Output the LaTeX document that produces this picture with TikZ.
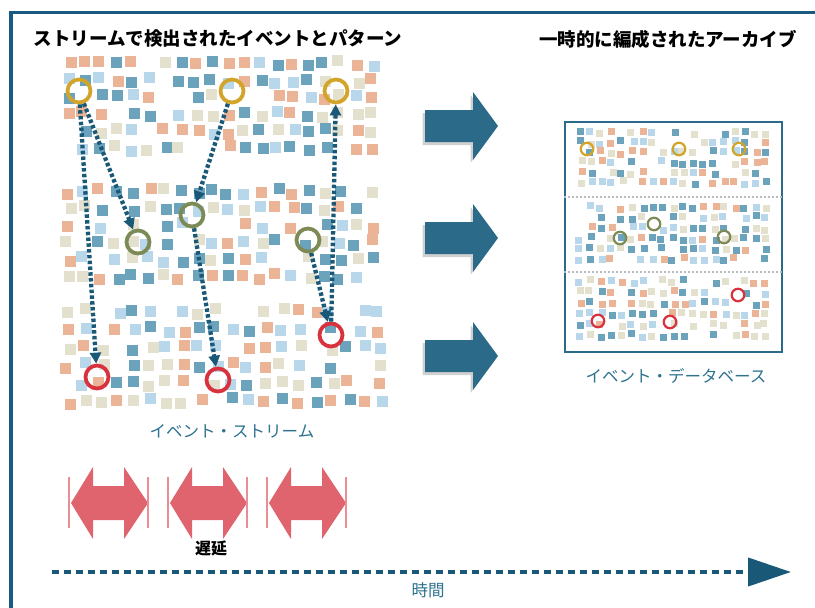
\documentclass[tikz,border=0pt]{standalone}
\usepackage{fontspec}
\setmainfont{Noto Sans CJK JP}
\usetikzlibrary{arrows.meta,shadows}
\definecolor{frameblue}{HTML}{1B5A80}
\definecolor{bigteal}{HTML}{2B6A88}
\definecolor{dotblue}{HTML}{1A5878}
\definecolor{labteal}{HTML}{2E7290}
\definecolor{sq0}{HTML}{6BA3BD}
\definecolor{sq1}{HTML}{B8D7EB}
\definecolor{sq2}{HTML}{EBB496}
\definecolor{sq3}{HTML}{E4E0CE}
\definecolor{ringy}{HTML}{D2A52A}
\definecolor{ringg}{HTML}{7D8A55}
\definecolor{ringr}{HTML}{D9323F}
\definecolor{redarr}{HTML}{E0646E}
\definecolor{redbar}{HTML}{EC8C94}
\definecolor{sepgray}{HTML}{B8BCC0}
% #1 x0, #2 y0, #3 cols, #4 rows, #5 step x, #6 step y, #7 size, #8 seed
\newcommand\sqband[8]{%
  \pgfmathsetseed{#8}%
  \foreach \gx in {1,...,#3}{%
    \foreach \gy in {1,...,#4}{%
      \pgfmathtruncatemacro\keep{rnd<0.82 ? 1 : 0}%
      \ifnum\keep=1
        \pgfmathsetmacro\px{#1+(\gx-1)*#5+(rnd-0.5)*#5*0.4}%
        \pgfmathsetmacro\py{#2+(\gy-1)*#6+(rnd-0.5)*#6*0.4}%
        \pgfmathtruncatemacro\cc{int(rnd*4)}%
        \fill[fill=sq\cc] (\px,\py) rectangle ++(#7,#7);%
      \fi
    }%
  }%
}
\begin{document}
\begin{tikzpicture}[x=1pt,y=-1pt,
  bigring/.style={circle,draw,line width=3.8pt,minimum size=23pt,inner sep=0pt},
  smallring/.style={circle,draw,line width=2.2pt,minimum size=12.5pt,inner sep=0pt},
  dotarrow/.style={draw=dotblue,line width=4.3pt,dash pattern=on 3.5pt off 2.3pt,
    -{Triangle[length=11pt,width=11pt,fill=dotblue]}},
  bigarrow/.style={fill=bigteal,drop shadow={shadow xshift=-2.5pt,shadow yshift=-3pt,opacity=0.3,fill=black!60}},
  redarrow/.style={fill=redarr},
  redbarline/.style={draw=redbar,line width=1.4pt},
  title/.style={font=\bfseries\fontsize{18.5}{20}\selectfont,text=black,inner sep=0pt},
  lab/.style={font=\fontsize{16.5}{18}\selectfont,text=labteal,inner sep=0pt}]
\useasboundingbox (0,0) rectangle (815,608);
\fill[white] (0,0) rectangle (815,608);

% frame
\draw[frameblue,line width=3.3pt] (11,608) -- (11,12.5) -- (815,12.5);

% titles
\node[title] (t1) at (218,39) {ストリームで検出されたイベントとパターン};
\node[title] (t2) at (668,39) {一時的に編成されたアーカイブ};

% left squares
\sqband{63}{58}{20}{6}{16}{17}{11}{11}
\sqband{63}{186}{20}{6}{16}{17}{11}{23}
\sqband{63}{306}{20}{6}{16.4}{18}{11}{37}

% left rings
\node[bigring,draw=ringy] (y1) at (79,91) {};
\node[bigring,draw=ringy] (y2) at (232,91) {};
\node[bigring,draw=ringy] (y3) at (336,91) {};
\node[bigring,draw=ringg] (g1) at (138,242) {};
\node[bigring,draw=ringg] (g2) at (192,215) {};
\node[bigring,draw=ringg] (g3) at (308,240) {};
\node[bigring,draw=ringr] (r1) at (97,377) {};
\node[bigring,draw=ringr] (r2) at (218,380) {};
\node[bigring,draw=ringr] (r3) at (331,335) {};

% dotted arrows
\draw[dotarrow] (y1) -- (r1);
\draw[dotarrow] (y1) -- (g1);
\draw[dotarrow] (y2) -- (g2);
\draw[dotarrow] (g2) -- (r2);
\draw[dotarrow] (g3) -- (r3);
\draw[dotarrow] (r3) -- (y3);

\node[lab] (ls) at (232,431) {イベント・ストリーム};

% big arrows
\foreach \c in {126,238,356}{
  \fill[bigarrow] (425,\c-16) -- (473,\c-16) -- (473,\c-34) -- (498,\c) -- (473,\c+34) -- (473,\c+16) -- (425,\c+16) -- cycle;
}

% archive box
\node[draw=bigteal,line width=2.5pt,fill=white,minimum width=217pt,minimum height=230pt,inner sep=0pt] (box) at (673.5,237) {};
\sqband{577}{129}{19}{6}{10.3}{10}{7}{51}
\sqband{577}{204}{19}{6}{10.3}{10.4}{7}{63}
\sqband{577}{278}{19}{6}{10.3}{10.8}{7}{79}
\draw[sepgray,line width=1.2pt,dash pattern=on 2pt off 2pt] (box.west |- 0,197) -- (box.east |- 0,197);
\draw[sepgray,line width=1.2pt,dash pattern=on 2pt off 2pt] (box.west |- 0,272) -- (box.east |- 0,272);
\node[smallring,draw=ringy] (sy1) at (587,149) {};
\node[smallring,draw=ringy] (sy2) at (679,149) {};
\node[smallring,draw=ringy] (sy3) at (739,149) {};
\node[smallring,draw=ringg] (sg1) at (620,238) {};
\node[smallring,draw=ringg] (sg2) at (654,224) {};
\node[smallring,draw=ringg] (sg3) at (724,237) {};
\node[smallring,draw=ringr] (sr1) at (598,321) {};
\node[smallring,draw=ringr] (sr2) at (670,322) {};
\node[smallring,draw=ringr] (sr3) at (738,295) {};

\node[lab] (ld) at (676,376) {イベント・データベース};

% red double arrows
\foreach \x in {69,168,267}{
  \fill[redarrow] (\x+2,503) -- (\x+24,467) -- (\x+24,486) -- (\x+55,486) -- (\x+55,467) -- (\x+79,503) -- (\x+55,539) -- (\x+55,520) -- (\x+24,520) -- (\x+24,539) -- cycle;
  \draw[redbarline] (\x,477) -- (\x,528);
  \draw[redbarline] (\x+79,477) -- (\x+79,528);
}
\node[font=\bfseries\fontsize{16}{18}\selectfont,inner sep=0pt] (lat) at (211,548) {遅延};

% time arrow
\coordinate (ts) at (52,572);
\coordinate (te) at (791,572);
\draw[draw=dotblue,line width=4pt,dash pattern=on 7pt off 5pt,-{Triangle[length=43pt,width=28pt,fill=dotblue]}] (ts) -- (te);
\node[lab] (lt) at (428,590) {時間};
\end{tikzpicture}
\end{document}
